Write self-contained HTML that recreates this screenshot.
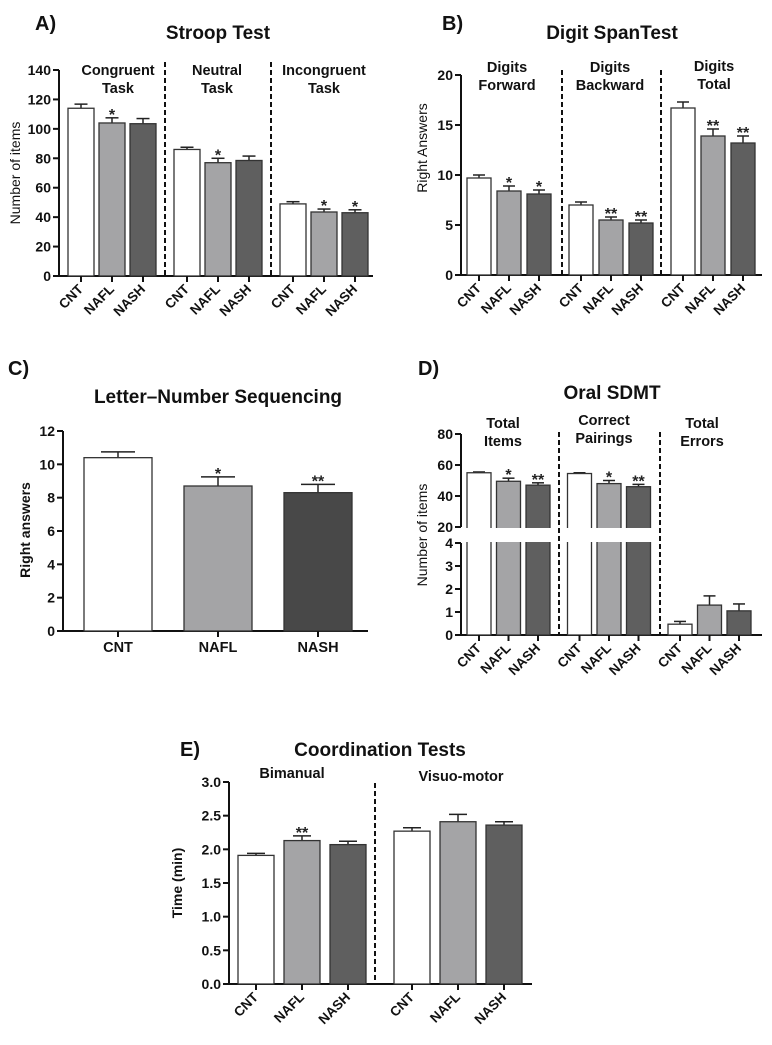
<!DOCTYPE html>
<html><head><meta charset="utf-8"><style>
html,body{margin:0;padding:0;background:#fff;}
svg{display:block;font-family:"Liberation Sans",Arial,sans-serif;}
</style></head><body>
<svg id="fig" width="772" height="1045" viewBox="0 0 772 1045" xmlns="http://www.w3.org/2000/svg"></svg>
<script>
// ---- data ----
const groups = ["CNT","NAFL","NASH"];
const aVals = [[114,104,103.5],[86,77,78.5],[49,43.5,43]];
const aErrs = [[2.8,3.5,3.5],[1.5,3,3],[1.5,2,2]];
const aStars = [[0,1,0],[0,1,0],[0,1,1]];
const aTicks = [0,20,40,60,80,100,120,140];
const bVals = [[9.7,8.4,8.1],[7.0,5.5,5.2],[16.7,13.9,13.2]];
const bErrs = [[0.3,0.5,0.4],[0.3,0.3,0.3],[0.6,0.7,0.7]];
const bStars = [[0,1,1],[0,2,2],[0,2,2]];
const bTicks = [0,5,10,15,20];
const cVals = [[10.4,8.7,8.3]];
const cErrs = [[0.35,0.55,0.5]];
const cStars = [[0,1,2]];
const cTicks = [0,2,4,6,8,10,12];
const dVals = [[55,49.5,47],[54.5,48,46],[0.47,1.3,1.05]];
const dErrs = [[0.5,2,1.5],[0.5,2,1.5],[0.12,0.4,0.3]];
const dStars = [[0,1,2],[0,1,2],[0,0,0]];
const eVals = [[1.91,2.13,2.07],[2.27,2.41,2.36]];
const eErrs = [[0.03,0.07,0.05],[0.05,0.11,0.05]];
const eStars = [[0,2,0],[0,0,0]];
const eTicks = [0,0.5,1.0,1.5,2.0,2.5,3.0];
const eTickLabels = ["0.0","0.5","1.0","1.5","2.0","2.5","3.0"];

const NS="http://www.w3.org/2000/svg";
const svg=document.getElementById('fig');
function mk(tag,attrs,parent){const e=document.createElementNS(NS,tag);for(const k in attrs)e.setAttribute(k,attrs[k]);(parent||svg).appendChild(e);return e;}
function txt(s,attrs,parent){const e=mk('text',attrs,parent);e.textContent=s;return e;}
const fills=["#ffffff","#a4a4a6","#5f5f5f"];

function panel(p){
  const g=mk('g',{});
  
  
  const y=p.y;
  const ax=mk('path',{d:p.axisPath,stroke:'#111','stroke-width':2,fill:'none'},g);
  
  
  const xa=mk('line',{x1:p.axisX-1,x2:p.axisEnd,y1:p.base,y2:p.base,stroke:'#111','stroke-width':2},g);
  
  
  p.ticks.forEach((t,i)=>{
    const ty=y(t);
    mk('line',{x1:p.axisX-6,x2:p.axisX,y1:ty,y2:ty,stroke:'#111','stroke-width':2},g);
    const l=txt(p.tickLabels?p.tickLabels[i]:String(t),{x:p.axisX-8,y:ty+5,'text-anchor':'end','font-size':14,'font-weight':'bold',fill:'#111'},g);
    
    
  });
  p.vals.forEach((grp,gi)=>{
    grp.forEach((v,i)=>{
      const x=p.x0+gi*p.gstep+i*p.step;
      const top=y(v), ep=y(v+p.errs[gi][i]);
      const cx=x+p.w/2;
      mk('line',{x1:cx,x2:cx,y1:top,y2:ep,stroke:'#222','stroke-width':1.5},g);
      mk('line',{x1:cx-p.w/4,x2:cx+p.w/4,y1:ep,y2:ep,stroke:'#222','stroke-width':1.5},g);
      const r=mk('rect',{x:x,y:top,width:p.w,height:p.base-top,fill:(p.fills||fills)[i],stroke:'#333','stroke-width':1.3},g);
      
      
      mk('line',{x1:cx,x2:cx,y1:p.base,y2:p.base+6,stroke:'#111','stroke-width':2},g);
      const lbl=txt(groups[i],p.flat?{x:cx,y:p.base+21,'text-anchor':'middle','font-size':14.5,'font-weight':'bold',fill:'#111'}:{x:cx+3,y:p.base+14,'text-anchor':'end','font-size':13.5,'font-weight':'bold',fill:'#111',transform:`rotate(-45 ${cx+3} ${p.base+14})`},g);
      
      
      const s=p.stars[gi][i];
      if(s){const st=txt(s===1?'*':'**',{x:cx,y:ep+2,'text-anchor':'middle','font-size':16,'font-weight':'bold',fill:'#222'},g);
        
        }
    });
  });
  if(p.brk){const w=mk('rect',{x:p.axisX-8,y:p.brk[0],width:p.axisEnd-p.axisX+10,height:p.brk[1]-p.brk[0],fill:'#fff'},g);
    
    mk('line',{x1:p.axisX-6,x2:p.axisX,y1:p.brk[0]-1,y2:p.brk[0]-1,stroke:'#111','stroke-width':2},g);
    txt('20',{x:p.axisX-8,y:p.brk[0]+4,'text-anchor':'end','font-size':14,'font-weight':'bold',fill:'#111'},g);
    mk('line',{x1:p.axisX-6,x2:p.axisX,y1:p.brk[1]+1,y2:p.brk[1]+1,stroke:'#111','stroke-width':2},g);
    txt('4',{x:p.axisX-8,y:p.brk[1]+6,'text-anchor':'end','font-size':14,'font-weight':'bold',fill:'#111'},g);}
  (p.dividers||[]).forEach(dx=>{const d=mk('line',{x1:dx,x2:dx,y1:p.divTop,y2:p.base,stroke:'#111','stroke-width':2,'stroke-dasharray':'5,3'},g);
    });
  (p.subs||[]).forEach(s=>{s[1].forEach((line,k)=>{const t=txt(line,{x:s[0],y:s[2]+k*18,'text-anchor':'middle','font-size':14.5,'font-weight':'bold',fill:'#111'},g);
    });});
  const tt=txt(p.title,{x:p.tx,y:p.ty,'text-anchor':'middle','font-size':19,'font-weight':'bold',fill:'#111'},g);
  
  const pl=txt(p.letter,{x:p.lx,y:p.ly,'font-size':20,'font-weight':'bold',fill:'#111'},g);
  
  const yt=txt(p.ylabel,{x:p.ylx,y:p.yly,'text-anchor':'middle','font-size':14,'font-weight':p.ylbold?'bold':'normal',fill:'#111',transform:`rotate(-90 ${p.ylx} ${p.yly})`},g);
  
}

// A
const yA=v=>276-v*(206/140);
panel({name:'stroop-test-chart',y:yA,base:276,axisX:59,axisEnd:373,axisPath:`M59 70 V276`,ticks:aTicks,vals:aVals,errs:aErrs,stars:aStars,
 x0:68,gstep:106,step:31,w:26,dividers:[165,271],divTop:62,
 subs:[[118,['Congruent','Task'],75],[217,['Neutral','Task'],75],[324,['Incongruent','Task'],75]],
 title:'Stroop Test',tx:218,ty:39,letter:'A)',lx:35,ly:30,ylabel:'Number of items',ylx:20,yly:173});
// B
const yB=v=>275-v*10;
panel({name:'digit-span-chart',y:yB,base:275,axisX:461,axisEnd:762,axisPath:`M461 75 V275`,ticks:bTicks,vals:bVals,errs:bErrs,stars:bStars,
 x0:467,gstep:102,step:30,w:24,dividers:[562,661],divTop:70,
 subs:[[507,['Digits','Forward'],72],[610,['Digits','Backward'],72],[714,['Digits','Total'],71]],
 title:'Digit SpanTest',tx:612,ty:39,letter:'B)',lx:442,ly:30,ylabel:'Right Answers',ylx:427,yly:148,ylbold:false});
// C
const yC=v=>631-v*(200/12);
panel({name:'letter-number-sequencing-chart',y:yC,base:631,axisX:63,axisEnd:368,axisPath:`M63 431 V631`,ticks:cTicks,vals:cVals,errs:cErrs,stars:cStars,
 x0:84,gstep:0,step:100,w:68,flat:true,fills:["#ffffff","#a4a4a6","#484848"],
 title:'Letter–Number Sequencing',tx:218,ty:403,letter:'C)',lx:8,ly:375,ylabel:'Right answers',ylx:30,yly:530,ylbold:true});
// D (broken axis)
const yD=v=>v>=20?527-(v-20)*(93/60):635-v*23;
panel({name:'oral-sdmt-chart',y:yD,base:635,axisX:461,axisEnd:762,axisPath:`M461 434 V527 M461 543 V635`,ticks:[40,60,80,0,1,2,3],vals:dVals,errs:dErrs,stars:dStars,
 x0:467,gstep:100.5,step:29.5,w:24,dividers:[559,660],divTop:432,brk:[528,542],
 subs:[[503,['Total','Items'],428],[604,['Correct','Pairings'],425],[702,['Total','Errors'],428]],
 title:'Oral SDMT',tx:612,ty:399,letter:'D)',lx:418,ly:375,ylabel:'Number of items',ylx:427,yly:535,ylbold:false});
// E
const yE=v=>984-v*(202/3);
panel({name:'coordination-tests-chart',y:yE,base:984,axisX:229,axisEnd:532,axisPath:`M229 782 V984`,ticks:eTicks,tickLabels:eTickLabels,vals:eVals,errs:eErrs,stars:eStars,
 x0:238,gstep:156,step:46,w:36,dividers:[375],divTop:783,
 subs:[[292,['Bimanual'],778],[461,['Visuo-motor'],781]],
 title:'Coordination Tests',tx:380,ty:756,letter:'E)',lx:180,ly:756,ylabel:'Time (min)',ylx:182,yly:883,ylbold:true});
</script>
</body></html>
